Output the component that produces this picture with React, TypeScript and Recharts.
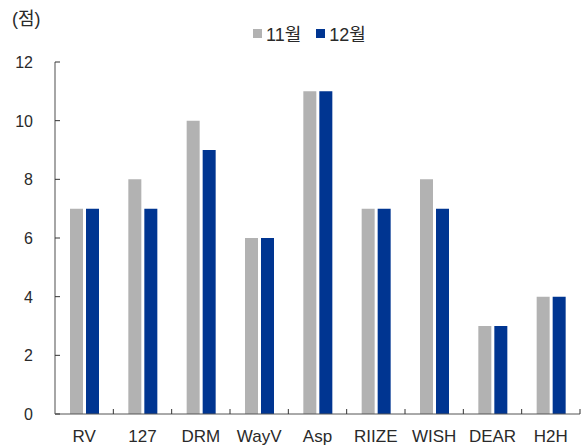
import { BarChart, Bar, XAxis, YAxis } from 'recharts';

const groups = ['RV', '127', 'DRM', 'WayV', 'Asp', 'RIIZE', 'WISH', 'DEAR', 'H2H'];
const nov = [7, 8, 10, 6, 11, 7, 8, 3, 4];
const dec = [7, 7, 9, 6, 11, 7, 7, 3, 4];
const yTicks = [0, 2, 4, 6, 8, 10, 12];
const seriesNames = ['11월', '12월'];

const GRAY = '#b2b2b2';
const BLUE = '#003591';
const TEXT = '#2a2a2a';
const FONT = '"Liberation Sans", Arial, "Noto Sans CJK KR", sans-serif';

const W = 587;
const H = 447;
const PLOT_LEFT = 55;
const PLOT_RIGHT = 580;
const BAND = (PLOT_RIGHT - PLOT_LEFT) / groups.length;

const data = groups.map((g, i) => ({ name: g, nov: nov[i], dec: dec[i] }));

function YTick({ x, y, payload }: any) {
  return (
    <g>
      <line x1={PLOT_LEFT} x2={PLOT_LEFT + 5} y1={y} y2={y} stroke="#333" />
      <text x={x} y={y} dy={6} textAnchor="end" fontSize={16} fill={TEXT} fontFamily={FONT}>
        {payload.value}
      </text>
    </g>
  );
}

function XTick({ x, y, payload }: any) {
  return (
    <g>
      <line x1={x + BAND / 2} x2={x + BAND / 2} y1={y - 5} y2={y} stroke="#333" />
      <text x={x} y={y + 28} textAnchor="middle" fontSize={17} fill={TEXT} fontFamily={FONT}>
        {payload.value}
      </text>
    </g>
  );
}

export default function App() {
  return (
    <div style={{ position: 'absolute', left: 0, top: 0, width: W, height: H, background: '#fff', fontFamily: FONT }}>
      <div style={{ position: 'absolute', left: 12, top: 4, fontSize: 18, color: TEXT }}>(점)</div>
      <div style={{ position: 'absolute', left: 253, top: 20, display: 'flex', alignItems: 'center', fontSize: 18, color: TEXT }}>
        <span style={{ width: 9, height: 9, background: GRAY, marginRight: 4 }} />
        <span>{seriesNames[0]}</span>
        <span style={{ width: 9, height: 9, background: BLUE, marginLeft: 15, marginRight: 4 }} />
        <span>{seriesNames[1]}</span>
      </div>
      <BarChart
        width={W}
        height={H}
        data={data}
        margin={{ top: 62, right: W - PLOT_RIGHT, left: PLOT_LEFT - 40, bottom: 3 }}
        barSize={13}
        barGap={3}
      >
        <XAxis
          dataKey="name"
          height={30}
          tickSize={0}
          tickMargin={0}
          tickLine={false}
          axisLine={{ stroke: '#555' }}
          tick={<XTick />}
          interval={0}
        />
        <YAxis
          type="number"
          domain={[0, 12]}
          ticks={yTicks}
          width={40}
          tickSize={0}
          tickMargin={22}
          tickLine={false}
          axisLine={{ stroke: '#888', strokeWidth: 1.5 }}
          tick={<YTick />}
          interval={0}
        />
        <Bar dataKey="nov" name={seriesNames[0]} fill={GRAY} isAnimationActive={false} />
        <Bar dataKey="dec" name={seriesNames[1]} fill={BLUE} isAnimationActive={false} />
      </BarChart>
    </div>
  );
}
